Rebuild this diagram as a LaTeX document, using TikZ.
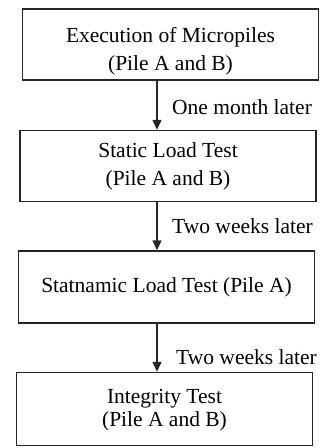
\documentclass[tikz,border=0pt]{standalone}
\usepackage{fontspec}
\setmainfont{Liberation Serif}
\usepackage{tikz}
\usetikzlibrary{arrows.meta,calc}
\tikzset{
  stepbox/.style={draw=black!85, line width=1.4pt, minimum width=296pt, minimum height=71pt,
    inner sep=0pt, align=center, font=\fontsize{21.5}{28}\selectfont},
  flow/.style={draw=black!85, line width=1.4pt, -{Triangle[length=10pt,width=9pt]}},
  waitlabel/.style={anchor=west, inner sep=0pt, font=\fontsize{21.5}{26}\selectfont}
}

\begin{document}
\begin{tikzpicture}[x=1pt,y=-1pt]
\useasboundingbox (0,0) rectangle (322,448);
\coordinate (axis) at (157,0);
% the four steps
\node[stepbox, text height=56pt] (exec) at (170.5,44.5) {Execution of Micropiles\\(Pile A and B)};
\node[stepbox] (static) at (168,166) {Static Load Test\\(Pile A and B)};
\node[stepbox, minimum height=72pt] (statnamic) at (166.5,287) {Statnamic Load Test (Pile A)};
\node[stepbox, minimum height=73pt, text height=40pt] (integrity) at (164.5,409) {Integrity Test\\[-5pt](Pile A and B)};
% waiting times
\draw[flow] (exec.south -| axis) -- (static.north -| axis);
\draw[flow] (static.south -| axis) -- (statnamic.north -| axis);
\draw[flow] (statnamic.south -| axis) -- (integrity.north -| axis);
\node[waitlabel] (month) at (172,107) {One month later};
\node[waitlabel] (weeksA) at (172,226) {Two weeks later};
\node[waitlabel] (weeksB) at (176,357) {Two weeks later};
\end{tikzpicture}
\end{document}
